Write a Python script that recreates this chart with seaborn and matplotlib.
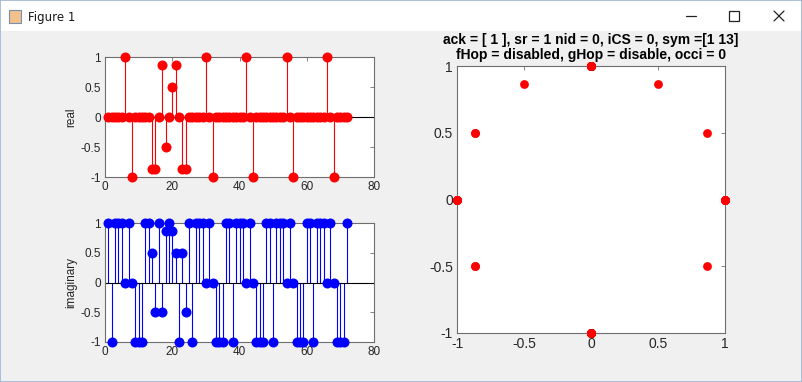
import numpy as np
import pandas as pd
import matplotlib
matplotlib.use("Agg")
import matplotlib.pyplot as plt
import seaborn as sns
from matplotlib.lines import Line2D
from matplotlib.patches import Rectangle

# --- data: sample index 1..72 ---
n_samples = 72
real_part = [0, 0, 0, 0, 0, 1, 0, -1, 0, 0, 0, 0,
             0, -0.866, -0.866, 0, 0.866, -0.5, 0, 0.5, 0.866, 0, -0.866, -0.866,
             0, 0, 0, 0, 0, 1, 0, -1, 0, 0, 0, 0,
             0, 0, 0, 0, 0, 1, 0, -1, 0, 0, 0, 0,
             0, 0, 0, 0, 0, 1, 0, -1, 0, 0, 0, 0,
             0, 0, 0, 0, 0, 1, 0, -1, 0, 0, 0, 0]
imag_part = [1, -1, 1, 1, 1, 0, 1, 0, -1, -1, -1, 1,
             1, 0.5, -0.5, 1, -0.5, 0.866, 1, 0.866, 0.5, -1, 0.5, -0.5,
             1, -1, 1, 1, 1, 0, 1, 0, -1, -1, -1, 1,
             1, -1, 1, 1, 1, 0, 1, 0, -1, -1, -1, 1,
             1, -1, 1, 1, 1, 0, 1, 0, -1, -1, -1, 1,
             1, -1, 1, 1, 1, 0, 1, 0, -1, -1, -1, 1]

stem_xticks = [0, 20, 40, 60, 80]
stem_yticks = [-1, -0.5, 0, 0.5, 1]
const_ticks = [-1, -0.5, 0, 0.5, 1]
title_lines = ["ack = [ 1 ], sr = 1 nid = 0, iCS = 0, sym =[1 13]",
               "fHop = disabled, gHop = disable, occi = 0"]

df = pd.DataFrame({"n": np.arange(1, n_samples + 1),
                   "re": real_part, "im": imag_part})

sns.set_style("white")
plt.rcParams['font.family'] = ['Liberation Sans', 'DejaVu Sans']

W, H = 802, 382
fig = plt.figure(figsize=(W / 100, H / 100), dpi=100)
fig.patch.set_facecolor('#f0f0f0')


def px_axes(x0, y0, x1, y1):
    # pixel box (top-left origin) -> figure fraction axes
    return fig.add_axes([x0 / W, 1 - y1 / H, (x1 - x0) / W, (y1 - y0) / H])


def matlab_look(ax, fs):
    ax.set_facecolor('white')
    for s in ax.spines.values():
        s.set_color('#6e6e6e')
        s.set_linewidth(0.8)
    ax.tick_params(direction='in', length=3, width=0.6, color='#6e6e6e',
                   top=True, right=True, labelsize=fs, pad=3,
                   labelcolor='#262626')
    ax.grid(False)


# --- window title bar (kept behind the axes) ---
fig.add_artist(Rectangle((0, 1 - 31 / H), 1, 31 / H, transform=fig.transFigure,
                         facecolor='white', edgecolor='none', zorder=-5))
fig.text(28 / W, 1 - 17 / H, "Figure 1", fontsize=8.5, va='center', ha='left',
         family=['DejaVu Sans'], color='#1a1a1a')
fig.add_artist(Rectangle((9 / W, 1 - 23 / H), 12 / W, 13 / H, transform=fig.transFigure,
                         facecolor='#f2c08a', edgecolor='#7a8fb0', linewidth=0.8))
kw = dict(transform=fig.transFigure, color='#222222', linewidth=0.9)
fig.add_artist(Line2D([686 / W, 696 / W], [1 - 16 / H, 1 - 16 / H], **kw))
fig.add_artist(Rectangle((729 / W, 1 - 21 / H), 10 / W, 10 / H, transform=fig.transFigure,
                         facecolor='none', edgecolor='#222222', linewidth=0.9))
fig.add_artist(Line2D([774 / W, 784 / W], [1 - 11 / H, 1 - 21 / H], **kw))
fig.add_artist(Line2D([774 / W, 784 / W], [1 - 21 / H, 1 - 11 / H], **kw))
# thin window frame
fig.add_artist(Rectangle((0, 0), 1, 1, transform=fig.transFigure,
                         facecolor='none', edgecolor='#9db4d3', linewidth=1.2))

# --- real part stem plot ---
ax1 = px_axes(105, 57, 374, 177)
ax1.vlines(df["n"], 0, df["re"], color='red', linewidth=0.8)
ax1.axhline(0, color='black', linewidth=0.8)
sns.scatterplot(data=df, x="n", y="re", ax=ax1, color='red', s=52,
                edgecolor='red', linewidth=0, zorder=3, clip_on=False)
ax1.set_xlim(0, 80)
ax1.set_ylim(-1, 1)
ax1.set_xticks(stem_xticks)
ax1.set_yticks(stem_yticks)
ax1.set_yticklabels([f"{v:g}" for v in stem_yticks])
ax1.set_xlabel("")
ax1.set_ylabel("real", fontsize=8.5, labelpad=2)
matlab_look(ax1, 8.5)

# --- imaginary part stem plot ---
ax2 = px_axes(105, 223, 374, 342)
ax2.vlines(df["n"], 0, df["im"], color='blue', linewidth=0.8)
ax2.axhline(0, color='black', linewidth=0.8)
sns.scatterplot(data=df, x="n", y="im", ax=ax2, color='blue', s=52,
                edgecolor='blue', linewidth=0, zorder=3, clip_on=False)
ax2.set_xlim(0, 80)
ax2.set_ylim(-1, 1)
ax2.set_xticks(stem_xticks)
ax2.set_yticks(stem_yticks)
ax2.set_yticklabels([f"{v:g}" for v in stem_yticks])
ax2.set_xlabel("")
ax2.set_ylabel("imaginary", fontsize=8.5, labelpad=2)
matlab_look(ax2, 8.5)

# --- constellation ---
ax3 = px_axes(457, 66, 725, 333)
sns.scatterplot(data=df, x="re", y="im", ax=ax3, color='red', s=40,
                edgecolor='red', linewidth=0, zorder=3, clip_on=False)
ax3.set_xlim(-1, 1)
ax3.set_ylim(-1, 1)
ax3.set_xticks(const_ticks)
ax3.set_yticks(const_ticks)
ax3.set_xticklabels([f"{v:g}" for v in const_ticks])
ax3.set_yticklabels([f"{v:g}" for v in const_ticks])
ax3.set_xlabel("")
ax3.set_ylabel("")
matlab_look(ax3, 10)
ax3.set_title("\n".join(title_lines), fontsize=10, fontweight='bold',
              linespacing=1.1, pad=5, color='black')

fig.savefig("out.png", dpi=100, facecolor=fig.get_facecolor())
